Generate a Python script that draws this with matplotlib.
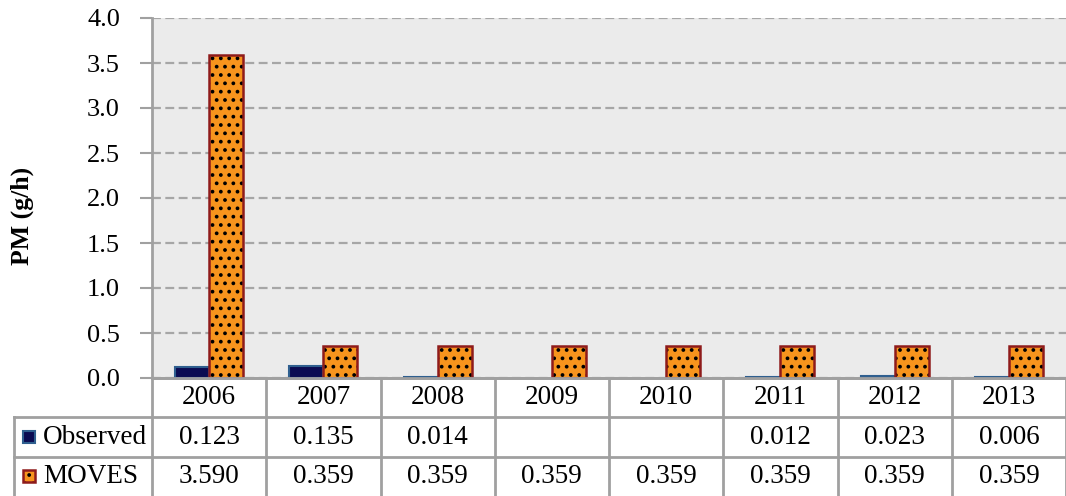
import numpy as np
import matplotlib.pyplot as plt
from matplotlib.patches import Rectangle

years = ['2006', '2007', '2008', '2009', '2010', '2011', '2012', '2013']
observed = [0.123, 0.135, 0.014, np.nan, np.nan, 0.012, 0.023, 0.006]
moves = [3.590, 0.359, 0.359, 0.359, 0.359, 0.359, 0.359, 0.359]
observed_labels = ['0.123', '0.135', '0.014', '', '', '0.012', '0.023', '0.006']
moves_labels = ['3.590', '0.359', '0.359', '0.359', '0.359', '0.359', '0.359', '0.359']

plt.rcParams['font.family'] = ['Liberation Serif', 'DejaVu Serif']
plt.rcParams['hatch.linewidth'] = 1.5

W, H = 1066, 496
fig = plt.figure(figsize=(W / 100, H / 100), dpi=100)

grid_c = '#A6A6A6'
line_c = '#A0A0A0'
navy = '#0B0B52'
navy_edge = '#2F5F8F'
orange = '#F7941D'
red_edge = '#8E1B1B'
fs = 19.5

# main plot area
ax = fig.add_axes([152 / W, (H - 378) / H, 1 - 152 / W, 360 / H])
ax.set_facecolor('#EBEBEB')
x = np.arange(len(years))
bw = 0.297
ax.bar(x - bw / 2, observed, bw, color=navy, edgecolor=navy_edge, linewidth=1.5, zorder=3)
ax.bar(x + bw / 2, moves, bw, color=orange, edgecolor='black', linewidth=0, hatch='..', zorder=3)
ax.bar(x + bw / 2, moves, bw, color='none', edgecolor=red_edge, linewidth=1.8, zorder=4)
ax.set_xlim(-0.5, len(years) - 0.5)
ax.set_ylim(0, 4.0)
ax.set_yticks(np.arange(0, 4.01, 0.5))
ax.set_yticklabels([f'{v:.1f}' for v in np.arange(0, 4.01, 0.5)], fontsize=19)
ax.set_xticks([])
ax.yaxis.grid(True, color=grid_c, linestyle=(0, (4, 2)), linewidth=1.6, zorder=1)
ax.set_axisbelow(True)
for s in ['top', 'right']:
    ax.spines[s].set_visible(False)
ax.spines['left'].set_color(line_c)
ax.spines['left'].set_linewidth(2)
ax.spines['bottom'].set_color(line_c)
ax.spines['bottom'].set_linewidth(2)
ax.tick_params(axis='y', length=9, width=1.5, color=line_c, pad=14)
fig.text(22 / W, 1 - 216 / H, 'PM (g/h)', rotation=90, ha='center', va='center',
         fontsize=18.5, fontweight='bold')

# data table below the plot
unit = 114.25
hdr = 138 / unit
tb = fig.add_axes([14 / W, 0, 1 - 14 / W, 118 / H])
tb.set_xlim(-0.5 - hdr, len(years) - 0.5)
tb.set_ylim(0, 3)
tb.axis('off')
lk = dict(color=line_c, linewidth=2, clip_on=False)
tb.plot([-0.5, len(years) - 0.5], [3, 3], **lk)
tb.plot([-0.5 - hdr, len(years) - 0.5], [2, 2], **lk)
tb.plot([-0.5 - hdr, len(years) - 0.5], [1, 1], **lk)
tb.plot([-0.5 - hdr, -0.5 - hdr], [0, 2], **lk)
for i in range(len(years) + 1):
    tb.plot([i - 0.5, i - 0.5], [0, 3], **lk)
for i, yr in enumerate(years):
    tb.text(i, 2.5, yr, ha='center', va='center', fontsize=fs)
    tb.text(i, 1.5, observed_labels[i], ha='center', va='center', fontsize=fs)
    tb.text(i, 0.5, moves_labels[i], ha='center', va='center', fontsize=fs)

# legend keys in the header column
kx = -0.5 - hdr + 9 / unit
kw = 12 / unit
kh = 0.3
tb.add_patch(Rectangle((kx, 1.5 - kh / 2), kw, kh, facecolor=navy, edgecolor=navy_edge, linewidth=1.5))
tb.add_patch(Rectangle((kx, 0.5 - kh / 2), kw, kh, facecolor=orange, edgecolor='black', linewidth=0, hatch='..'))
tb.add_patch(Rectangle((kx, 0.5 - kh / 2), kw, kh, facecolor='none', edgecolor=red_edge, linewidth=1.8))
tb.text(-0.5 - hdr + 29 / unit, 1.5, 'Observed', ha='left', va='center', fontsize=fs)
tb.text(-0.5 - hdr + 29 / unit, 0.5, 'MOVES', ha='left', va='center', fontsize=fs)

fig.savefig('out.png', dpi=100)
